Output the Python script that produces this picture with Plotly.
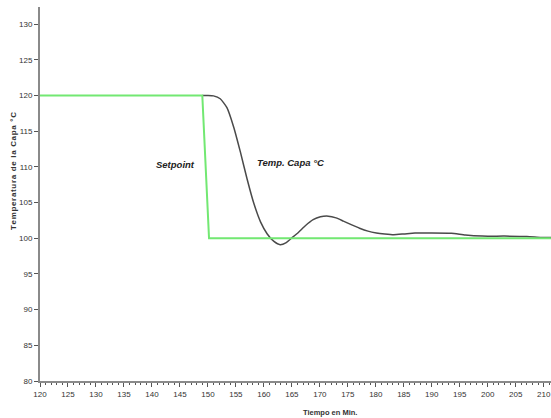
import plotly.graph_objects as go

# Data
setpoint_t = [120, 149.0, 150.2, 211.3]
setpoint_v = [120, 120, 100, 100]

temp_t = [149.0, 150.0, 151.0, 152.2, 153.4, 154.6, 155.8, 157.0, 158.2, 159.4, 160.6, 161.8,
          162.9, 164.0, 165.0, 166.2, 167.4, 168.8, 170.1, 171.5, 172.9, 174.2, 175.6, 177.1,
          178.6, 180.1, 181.6, 183.2, 185.0, 187.0, 190.0, 193.5, 196.0, 199.0, 203.0, 207.0, 209.5, 211.3]
temp_v = [120.0, 120.0, 119.95, 119.55, 118.3, 115.6, 112.1, 108.3, 104.9, 102.3, 100.6, 99.55,
          99.1, 99.4, 100.05, 100.85, 101.75, 102.6, 103.0, 103.1, 102.85, 102.4, 101.9, 101.4,
          101.0, 100.75, 100.6, 100.5, 100.6, 100.72, 100.75, 100.7, 100.45, 100.3, 100.3, 100.25, 100.12, 100.1]

x_ticks = list(range(120, 215, 5))
y_ticks = list(range(80, 135, 5))

FONT = "Liberation Sans, Arial, sans-serif"

fig = go.Figure()
fig.add_trace(go.Scatter(x=temp_t, y=temp_v, mode="lines",
                         line=dict(color="#4a4a4a", width=1.5, shape="spline", smoothing=0.5),
                         hoverinfo="skip", showlegend=False))
fig.add_trace(go.Scatter(x=setpoint_t, y=setpoint_v, mode="lines",
                         line=dict(color="#72e872", width=2),
                         hoverinfo="skip", showlegend=False))

ytitle = "\u200a".join("Temperatura de la Capa °C")

fig.update_layout(
    width=551, height=418,
    margin=dict(l=40, r=0, t=7, b=37),
    paper_bgcolor="white", plot_bgcolor="white",
    font=dict(family=FONT, size=8, color="#333333"),
    xaxis=dict(range=[120, 211.3], tickvals=x_ticks, showgrid=False, zeroline=False,
               showline=True, linecolor="#8a8a8a", linewidth=2,
               ticks="outside", ticklen=4, tickwidth=1, tickcolor="#555555",
               ticklabeloverflow="allow",
               minor=dict(dtick=1, ticks="outside", ticklen=2, tickcolor="#555555", showgrid=False),
               tickfont=dict(size=8, color="#333333")),
    yaxis=dict(range=[80, 132.4], tickvals=y_ticks, showgrid=False, zeroline=False,
               showline=True, linecolor="#8a8a8a", linewidth=2,
               ticks="outside", ticklen=4, tickwidth=1, tickcolor="#555555",
               tickfont=dict(size=8, color="#333333")),
    annotations=[
        dict(text="<b><i>Setpoint</i></b>", x=175, y=164, xref="paper", yref="paper",
             showarrow=False, font=dict(size=9.5, color="#222222")),
        dict(text="<b><i>Temp. Capa °C</i></b>", x=290, y=162, xref="paper", yref="paper",
             showarrow=False, font=dict(size=9.5, color="#222222")),
        dict(text="<b>Tiempo en Min.</b>", x=330, y=412, xref="paper", yref="paper",
             showarrow=False, font=dict(size=7.5, color="#333333")),
        dict(text="<b>" + ytitle + "</b>", x=13, y=171, xref="paper", yref="paper",
             showarrow=False, textangle=-90, font=dict(size=8, color="#333333")),
    ],
)

# convert pixel positions of annotations to paper coords
pw, ph = 551 - 40, 418 - 7 - 37
for a in fig.layout.annotations:
    px, py = a.x, a.y
    a.x = (px - 40) / pw
    a.y = (418 - 37 - py) / ph
    a.xanchor = "center"
    a.yanchor = "middle"

fig.write_html("out.html")
